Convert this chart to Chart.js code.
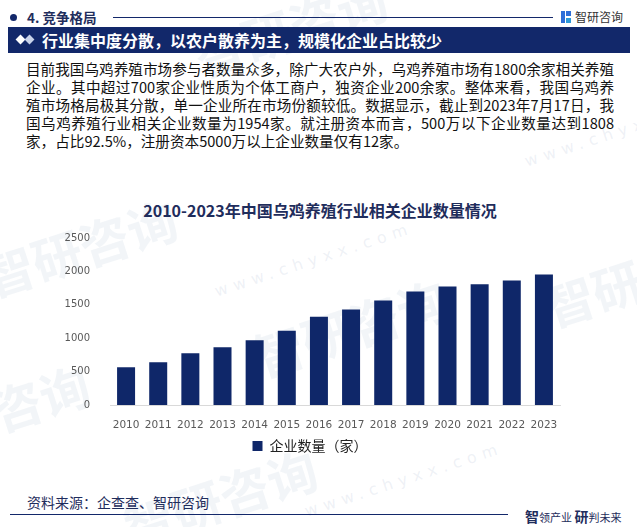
<!DOCTYPE html>
<html>
<head>
<meta charset="utf-8">
<script src="https://cdn.jsdelivr.net/npm/chart.js@4.4.0/dist/chart.umd.min.js"></script>
<style>
  body { margin:0; width:637px; height:527px; background:#fff; position:relative; overflow:hidden;
         font-family:"Noto Sans CJK SC","Noto Sans",sans-serif; }
  .abs { position:absolute; }
  .wm { position:absolute; color:rgba(170,185,210,0.15); font-weight:bold; transform:rotate(-18deg); white-space:nowrap; }
  .wm2 { position:absolute; color:rgba(170,185,210,0.2); transform:rotate(-18deg); white-space:nowrap; letter-spacing:6px; font-family:"DejaVu Sans"; }
  .body p { margin:0; width:588px; text-align:justify; text-align-last:justify; white-space:nowrap; }
  .body p.last { text-align-last:left; }
</style>
</head>
<body>
<!-- watermarks -->
<div class="wm" style="left:190px;top:-10px;font-size:50px;">智研咨询</div>
<div class="wm" style="left:-20px;top:210px;font-size:50px;">智研咨询</div>
<div class="wm" style="left:250px;top:290px;font-size:50px;">智研咨询</div>
<div class="wm" style="left:540px;top:240px;font-size:50px;">智研咨询</div>
<div class="wm" style="left:-10px;top:360px;font-size:50px;">咨询</div>
<div class="wm" style="left:120px;top:460px;font-size:50px;">智研咨询</div>
<div class="wm2" style="left:210px;top:250px;font-size:16px;">www.chyxx.com</div>
<div class="wm2" style="left:300px;top:470px;font-size:16px;">www.chyxx.com</div>
<div class="wm2" style="left:520px;top:120px;font-size:16px;">www.chyxx.com</div>

<!-- header -->
<div class="abs" style="left:10px;top:14px;width:7px;height:7px;border-radius:50%;background:#13286a;"></div>
<div class="abs" style="left:27px;top:7px;font-size:13.5px;font-weight:bold;color:#1f2d5c;">4. 竞争格局</div>
<div class="abs" style="left:113px;top:17px;width:440px;height:1px;background:#13286a;"></div>
<div class="abs" style="left:561px;top:11px;width:4px;height:12px;background:#2e6fd8;"></div>
<div class="abs" style="left:566px;top:11px;width:5px;height:5px;background:#2e6fd8;"></div>
<div class="abs" style="left:566px;top:18px;width:5px;height:5px;background:#2e9ad8;"></div>
<div class="abs" style="left:575px;top:8px;font-size:12px;color:#333;">智研咨询</div>

<!-- banner -->
<div class="abs" style="left:8px;top:27px;width:622px;height:26px;background:#12286a;"></div>
<div class="abs" style="left:17px;top:36px;width:7px;height:7px;background:#fff;transform:rotate(45deg);"></div>
<div class="abs" style="left:26px;top:36px;width:7px;height:7px;background:#c9d3ea;transform:rotate(45deg);"></div>
<div class="abs" style="left:42px;top:29px;font-size:16px;font-weight:bold;color:#fff;line-height:22px;">行业集中度分散，以农户散养为主，规模化企业占比较少</div>

<!-- body text -->
<div class="abs body" style="left:26px;top:60px;font-size:14.6px;line-height:18px;color:#111;">
  <p>目前我国乌鸡养殖市场参与者数量众多，除广大农户外，乌鸡养殖市场有1800余家相关养殖</p>
  <p>企业。其中超过700家企业性质为个体工商户，独资企业200余家。整体来看，我国乌鸡养</p>
  <p>殖市场格局极其分散，单一企业所在市场份额较低。数据显示，截止到2023年7月17日，我</p>
  <p>国乌鸡养殖行业相关企业数量为1954家。就注册资本而言，500万以下企业数量达到1808</p>
  <p class="last">家，占比92.5%，注册资本5000万以上企业数量仅有12家。</p>
</div>

<!-- chart title -->
<div class="abs" style="left:0;top:198px;width:640px;text-align:center;font-size:16px;font-weight:bold;color:#1f2d5c;">2010-2023年中国乌鸡养殖行业相关企业数量情况</div>

<div class="abs" style="left:60px;top:220px;width:520px;height:243px;">
  <canvas id="chart_1"></canvas>
</div>

<!-- footer -->
<div class="abs" style="left:27px;top:492px;font-size:14px;color:#1f2d5c;">资料来源：企查查、智研咨询</div>
<div class="abs" style="left:10px;top:514px;width:498px;height:1px;background:#13286a;"></div>
<div class="abs" style="left:525px;top:503px;color:#1f2d5c;white-space:nowrap;">
  <span style="font-size:14px;font-weight:bold;">智</span><span style="font-size:11px;">领产业 </span><span style="font-size:14px;font-weight:bold;">研</span><span style="font-size:11px;">判未来</span>
</div>

<script>
// data
var years = ['2010','2011','2012','2013','2014','2015','2016','2017','2018','2019','2020','2021','2022','2023'];
var companyCount = [565, 640, 775, 865, 970, 1110, 1320, 1430, 1565, 1700, 1775, 1808, 1865, 1954];
var seriesName = '企业数量（家）';

function drawChart_1(labels, dataX){
  var ctx_1 = document.getElementById("chart_1").getContext('2d');
  var chart_1 = new Chart(ctx_1, {
    type: 'bar',
    data: {
      labels: labels,
      datasets: [{
        label: seriesName,
        data: dataX,
        backgroundColor: '#0f2769',
        borderWidth: 0,
        barPercentage: 0.56,
        categoryPercentage: 1
      }]
    },
    options: {
      responsive: true,
      maintainAspectRatio: false,
      animation: false,
      layout: { padding: { left: 0, right: 20, top: 1, bottom: 0 } },
      plugins: {
        tooltip: { enabled: false },
        legend: {
          position: 'bottom',
          labels: {
            boxWidth: 10, boxHeight: 10, padding: 8,
            color: '#222',
            font: { family: '"Noto Sans CJK SC"', size: 14 }
          }
        }
      },
      scales: {
        x: {
          grid: { display: false },
          border: { display: true, color: '#d9d9d9' },
          ticks: { color: '#595959', padding: 6, maxRotation: 0, font: { family: '"DejaVu Sans"', size: 10.5 } },
          afterFit: function(s){ s.height = 26; }
        },
        y: {
          min: 0, max: 2500,
          grid: { display: false },
          border: { display: false },
          ticks: {
            stepSize: 500, color: '#595959', padding: 12,
            font: { family: '"DejaVu Sans"', size: 10 },
            callback: function(v){ return String(v); }
          },
          afterFit: function(s){ s.width = 50; }
        }
      }
    }
  });
}

drawChart_1(years, companyCount);
</script>
</body>
</html>
